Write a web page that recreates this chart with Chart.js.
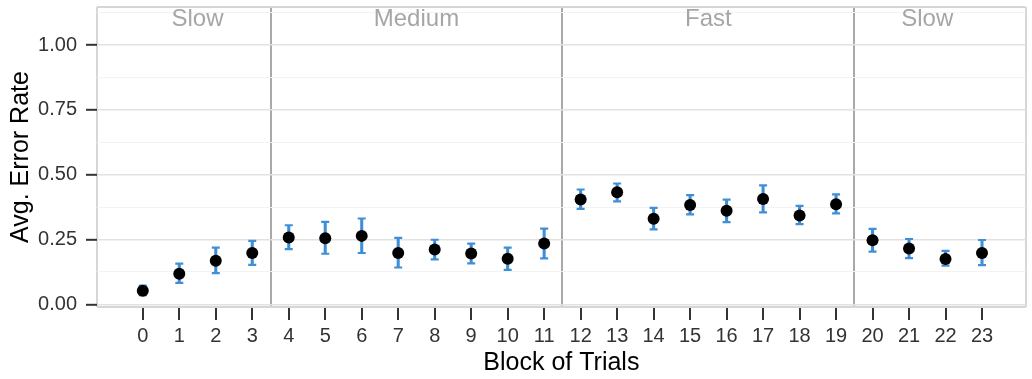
<!DOCTYPE html>
<html>
<head>
<meta charset="utf-8">
<script src="https://cdn.jsdelivr.net/npm/chart.js@4.4.1/dist/chart.umd.min.js"></script>
<style>
  html, body { margin: 0; padding: 0; background: #ffffff; }
  #wrap { width: 1032px; height: 379px; }
</style>
</head>
<body>
<div id="wrap"><canvas id="c" width="1032" height="379"></canvas></div>
<script>
// ---- data ----
const blocks = [0,1,2,3,4,5,6,7,8,9,10,11,12,13,14,15,16,17,18,19,20,21,22,23];
const errorMean = [0.052,0.118,0.168,0.198,0.258,0.255,0.264,0.198,0.211,0.196,0.176,0.235,0.404,0.432,0.330,0.383,0.361,0.406,0.343,0.386,0.247,0.215,0.175,0.198];
const errorLow  = [0.035,0.083,0.120,0.152,0.213,0.195,0.198,0.142,0.173,0.158,0.133,0.177,0.368,0.397,0.289,0.347,0.317,0.355,0.309,0.351,0.203,0.178,0.149,0.151];
const errorHigh = [0.072,0.157,0.219,0.245,0.305,0.318,0.331,0.256,0.249,0.234,0.219,0.292,0.443,0.466,0.372,0.421,0.404,0.459,0.380,0.424,0.291,0.252,0.206,0.248];
const phaseNames = ['Slow','Medium','Fast','Slow'];
const phaseFirst = [0,4,12,20];
const phaseLast  = [3,11,19,23];
const yMajorTicks = [0, 0.25, 0.5, 0.75, 1.0];
const yMinorTicks = [0.125, 0.375, 0.625, 0.875, 1.125];
const xTickLabels = blocks.map(String);

// ---- view ranges ----
const xMin = -1.255, xMax = 24.2;
const yMin = -0.0104, yMax = 1.147;

const FONT = '"Liberation Sans", Arial, Helvetica, sans-serif';
const BLUE = '#3f8fd8';

const boundaries = phaseFirst.slice(1).map((f, i) => (f + phaseLast[i]) / 2);

const isXInt = v => blocks.includes(v);
const isBoundary = v => boundaries.some(b => Math.abs(b - v) < 1e-9);
const isYMajor = v => yMajorTicks.some(t => Math.abs(t - v) < 1e-9);
const isYMinor = v => yMinorTicks.some(t => Math.abs(t - v) < 1e-9);

const phaseLabelPlugin = {
  id: 'phaseLabels',
  beforeDatasetsDraw(chart) {
    const {ctx, chartArea, scales} = chart;
    ctx.save();
    ctx.font = '24px ' + FONT;
    ctx.fillStyle = '#a6a6a6';
    ctx.textAlign = 'center';
    ctx.textBaseline = 'middle';
    phaseNames.forEach((name, i) => {
      const cx = scales.x.getPixelForValue((phaseFirst[i] + phaseLast[i]) / 2);
      ctx.fillText(name, cx, chartArea.top + 12);
    });
    ctx.restore();
  }
};

new Chart(document.getElementById('c'), {
  data: {
    datasets: [
      {
        type: 'scatter',
        label: 'mean',
        order: 0,
        data: blocks.map((b, i) => ({x: b, y: errorMean[i]})),
        pointRadius: 6,
        pointBackgroundColor: '#000000',
        pointBorderColor: '#000000',
        pointBorderWidth: 0,
      },
      {
        type: 'scatter',
        label: 'capLow',
        order: 1,
        data: blocks.map((b, i) => ({x: b, y: errorLow[i]})),
        pointStyle: 'line',
        pointRadius: 4,
        pointBorderColor: BLUE,
        pointBorderWidth: 2.2,
      },
      {
        type: 'scatter',
        label: 'capHigh',
        order: 1,
        data: blocks.map((b, i) => ({x: b, y: errorHigh[i]})),
        pointStyle: 'line',
        pointRadius: 4,
        pointBorderColor: BLUE,
        pointBorderWidth: 2.2,
      },
      {
        type: 'bar',
        label: 'errorbar',
        order: 2,
        data: blocks.map((b, i) => ({x: b, y: [errorLow[i], errorHigh[i]]})),
        backgroundColor: BLUE,
        borderWidth: 0,
        barThickness: 2.4,
        grouped: false,
      }
    ]
  },
  options: {
    responsive: false,
    animation: false,
    devicePixelRatio: 1,
    layout: { padding: { top: 7, right: 2, left: 0, bottom: 0 } },
    plugins: { legend: { display: false }, tooltip: { enabled: false } },
    scales: {
      x: {
        type: 'linear',
        min: xMin, max: xMax,
        offset: false,
        afterBuildTicks: s => {
          s.ticks = [xMin, ...blocks, ...boundaries, xMax].sort((a, b) => a - b).map(v => ({value: v}));
        },
        afterFit: s => { s.height = 72; s.paddingLeft = 0; s.paddingRight = 0; },
        border: { display: false },
        grid: {
          offset: false,
          drawOnChartArea: true,
          drawTicks: true,
          tickLength: 13,
          color: c => {
            const v = c.tick.value;
            if (isBoundary(v)) return '#a9a9a9';
            if (v === xMin || v === xMax) return '#d6d6d6';
            return 'rgba(0,0,0,0)';
          },
          lineWidth: c => (isBoundary(c.tick.value) || c.tick.value === xMin || c.tick.value === xMax) ? 2 : 0,
          tickColor: c => isXInt(c.tick.value) ? '#333333' : 'rgba(0,0,0,0)',
          tickWidth: c => isXInt(c.tick.value) ? 2 : 0,
        },
        ticks: {
          autoSkip: false,
          maxRotation: 0,
          padding: 4,
          color: '#333333',
          font: { family: FONT, size: 20 },
          callback: v => isXInt(v) ? xTickLabels[blocks.indexOf(v)] : '',
        },
        title: {
          display: true,
          text: 'Block of Trials',
          color: '#000000',
          font: { family: FONT, size: 25 },
          padding: { top: 0, bottom: 1 },
        }
      },
      y: {
        type: 'linear',
        min: yMin, max: yMax,
        afterBuildTicks: s => {
          s.ticks = [yMin, ...yMajorTicks, ...yMinorTicks, yMax].sort((a, b) => a - b).map(v => ({value: v}));
        },
        afterFit: s => { s.width = 97; s.paddingTop = 0; s.paddingBottom = 0; },
        border: { display: false },
        grid: {
          drawOnChartArea: true,
          drawTicks: true,
          tickLength: 11,
          color: c => {
            const v = c.tick.value;
            if (v === yMin || v === yMax) return '#d6d6d6';
            if (isYMajor(v)) return '#e2e2e2';
            if (isYMinor(v)) return '#f3f3f3';
            return 'rgba(0,0,0,0)';
          },
          lineWidth: c => {
            const v = c.tick.value;
            if (v === yMin || v === yMax) return 2;
            if (isYMajor(v)) return 1.6;
            return 1;
          },
          tickColor: c => isYMajor(c.tick.value) ? '#333333' : 'rgba(0,0,0,0)',
          tickWidth: c => isYMajor(c.tick.value) ? 2 : 0,
        },
        ticks: {
          autoSkip: false,
          padding: 9,
          color: '#333333',
          font: { family: FONT, size: 20 },
          callback: v => isYMajor(v) ? v.toFixed(2) : '',
        },
        title: {
          display: true,
          text: 'Avg. Error Rate',
          color: '#000000',
          font: { family: FONT, size: 25 },
          padding: { top: 6, bottom: 0 },
        }
      }
    }
  },
  plugins: [phaseLabelPlugin]
});
</script>
</body>
</html>
